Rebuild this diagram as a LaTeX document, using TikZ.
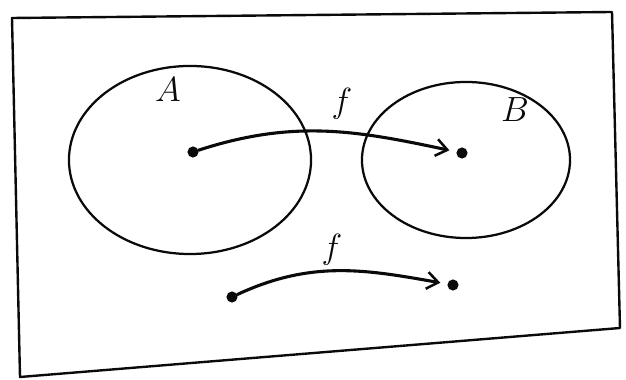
\documentclass[tikz,border=0pt]{standalone}
\usepackage{tikz}
\usepackage{xcolor}
\usepackage{amsmath,amssymb}
\usetikzlibrary{calc,arrows.meta,positioning,shapes.geometric}
\definecolor{penInk}{RGB}{10,10,10}
\newcommand{\setA}{$A$}
\newcommand{\setB}{$B$}
\newcommand{\mapf}{$f$}

\begin{document}
\begin{tikzpicture}[x=0.025cm,y=0.025cm,
  setblob/.style={ellipse,draw=penInk,line width=1.6pt,inner sep=0pt},
  elemdot/.style={circle,fill=penInk,inner sep=2.8pt},
  maparrow/.style={draw=penInk,line width=2.2pt,line cap=round,-{Straight Barb[length=8pt,width=12pt,line width=1.8pt]},shorten >=5pt},
  handlabel/.style={text=penInk,font=\fontsize{27}{29}\selectfont}]
\useasboundingbox (0,0) rectangle (626,380);
\draw[draw=penInk,line width=1.7pt,line join=round] (12,362) -- (612,368) -- (620,52) -- (20,3) -- cycle;
\node[setblob,minimum width=6.05cm,minimum height=4.7cm] (setA) at (190,220) {};
\node[setblob,minimum width=5.2cm,minimum height=3.9cm] (setB) at (466,220) {};
\node[handlabel] (labA) at (168,290) {\setA};
\node[handlabel] (labB) at (515,270) {\setB};
\node[elemdot] (a) at (193,228) {};
\node[elemdot] (b) at (462,227) {};
\node[handlabel] (fTop) at (342,276) {\mapf};
\draw[maparrow] (a) to[out=18,in=168] (b);
\node[elemdot] (c) at (232,83) {};
\node[elemdot] (d) at (453,95) {};
\node[handlabel] (fLow) at (332,130) {\mapf};
\draw[maparrow] (c) to[out=25,in=170] (d);
\end{tikzpicture}
\end{document}
